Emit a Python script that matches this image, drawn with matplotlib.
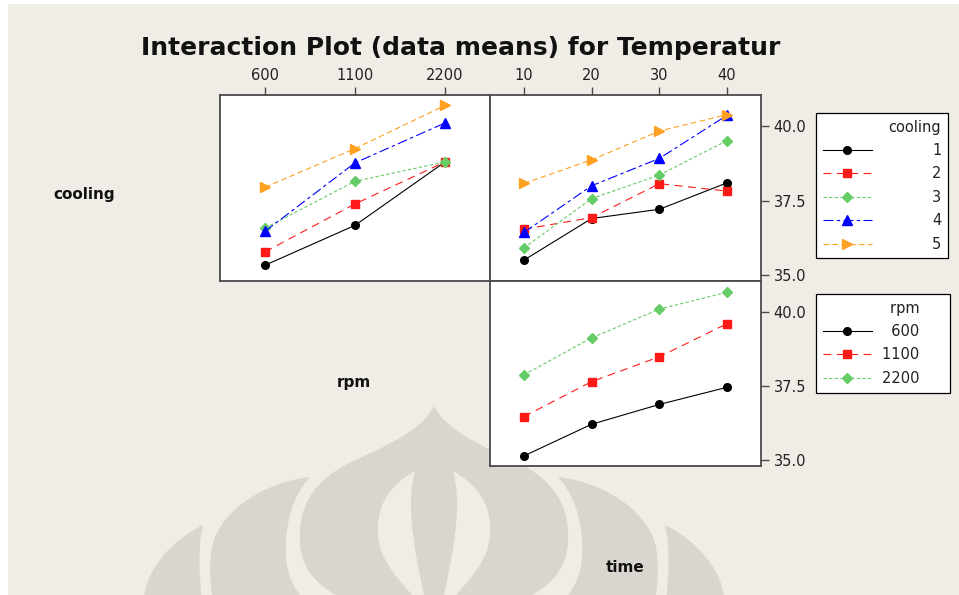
import matplotlib
matplotlib.use("Agg")
import matplotlib.pyplot as plt
from matplotlib.path import Path
from matplotlib.patches import PathPatch, Rectangle

# =====================================
# Data (means of Temperatur)
# =====================================
rpm_levels = ["600", "1100", "2200"]
time_levels = ["10", "20", "30", "40"]
cooling_levels = ["1", "2", "3", "4", "5"]

# cooling x rpm  (one list per cooling level, over rpm)
cool_rpm_1 = [35.33, 36.67, 38.80]
cool_rpm_2 = [35.78, 37.39, 38.80]
cool_rpm_3 = [36.58, 38.15, 38.80]
cool_rpm_4 = [36.47, 38.77, 40.11]
cool_rpm_5 = [37.95, 39.25, 40.70]

# cooling x time
cool_time_1 = [35.50, 36.90, 37.21, 38.10]
cool_time_2 = [36.54, 36.93, 38.07, 37.82]
cool_time_3 = [35.91, 37.57, 38.36, 39.52]
cool_time_4 = [36.43, 38.00, 38.92, 40.37]
cool_time_5 = [38.08, 38.87, 39.84, 40.39]

# rpm x time
rpm_time_600 = [35.14, 36.21, 36.88, 37.46]
rpm_time_1100 = [36.47, 37.65, 38.49, 39.61]
rpm_time_2200 = [37.88, 39.13, 40.10, 40.67]

y_ticks = [35.0, 37.5, 40.0]

# =====================================
# Styles
# =====================================
BG = "#f0ece6"
WM = "#d9d5cf"
FRAME = "#4a4a4a"
styles = [
    dict(color="black", ls="-", marker="o", ms=5.5),
    dict(color="#ff1a1a", ls=(0, (7, 5)), marker="s", ms=6),
    dict(color="#66cc66", ls=(0, (3, 2)), marker="D", ms=5),
    dict(color="#0000ff", ls=(0, (9, 3, 3, 3)), marker="^", ms=6.5),
    dict(color="#ffa020", ls=(0, (5, 3)), marker=">", ms=6.5),
]

W, H = 959, 595
fig = plt.figure(figsize=(W / 100, H / 100), dpi=100)
fig.patch.set_facecolor("white")


def fx(px):
    return px / W


def fy(py):
    return 1 - py / H


# page background
fig.patches.append(Rectangle((fx(8), 0), 1 - fx(8), fy(4), transform=fig.transFigure,
                             facecolor=BG, edgecolor="none", zorder=-3))

# =====================================
# Watermark (decoration)
# =====================================
M, C4, L, CL = Path.MOVETO, Path.CURVE4, Path.LINETO, Path.CLOSEPOLY
cx = 434


def mirror(pts):
    return [(2 * cx - x, y) for x, y in pts]


def add_shape(pts, codes, color, z=-2):
    verts = [(fx(x), fy(y)) for x, y in pts]
    fig.patches.append(PathPatch(Path(verts, codes), transform=fig.transFigure,
                                 facecolor=color, edgecolor="none", zorder=z))


dome = [(345, 600), (320, 588), (300, 570), (300, 540),
        (298, 500), (320, 475), (360, 458),
        (400, 440), (425, 425), (434, 406),
        (443, 425), (468, 440), (508, 458),
        (548, 475), (570, 500), (568, 540),
        (568, 570), (548, 588), (523, 600), (345, 600)]
dome_codes = [M] + [C4] * 18 + [CL]
add_shape(dome, dome_codes, WM)

petal = [(310, 477), (262, 482), (213, 515), (211, 555),
         (209, 575), (211, 590), (213, 600), (304, 600),
         (290, 585), (284, 565), (286, 540),
         (288, 510), (298, 490), (310, 477), (310, 477)]
petal_codes = [M, C4, C4, C4, C4, C4, C4, L, C4, C4, C4, C4, C4, C4, CL]
add_shape(petal, petal_codes, WM)
add_shape(mirror(petal), petal_codes, WM)

outer = [(203, 525), (172, 540), (145, 570), (144, 600), (202, 600),
         (199, 575), (198, 545), (203, 525), (203, 525)]
outer_codes = [M, C4, C4, C4, L, C4, C4, C4, CL]
add_shape(outer, outer_codes, WM)
add_shape(mirror(outer), outer_codes, WM)

lens = [(415, 471), (390, 485), (376, 505), (378, 535),
        (380, 565), (405, 585), (416, 600), (425, 600),
        (418, 565), (404, 510), (415, 471), (415, 471)]
lens_codes = [M, C4, C4, C4, C4, C4, C4, L, C4, C4, C4, CL]
add_shape(lens, lens_codes, BG, z=-1)
add_shape(mirror(lens), lens_codes, BG, z=-1)

# =====================================
# Panels
# =====================================
ylim = (34.8, 41.05)


def make_ax(x0, y0, x1, y1):
    ax = fig.add_axes([fx(x0), fy(y1), fx(x1) - fx(x0), fy(y0) - fy(y1)])
    ax.set_facecolor("white")
    for s in ax.spines.values():
        s.set_color(FRAME)
        s.set_linewidth(1.3)
    ax.set_ylim(*ylim)
    ax.tick_params(colors=FRAME, labelcolor="#222222", labelsize=10.5,
                   length=6, width=1.0, direction="out", pad=3)
    return ax


ax_cr = make_ax(220, 95, 490, 281)
ax_ct = make_ax(490, 95, 761, 281)
ax_rt = make_ax(490, 281, 761, 466)

x_rpm = range(len(rpm_levels))
x_time = range(len(time_levels))

cool_rpm = [cool_rpm_1, cool_rpm_2, cool_rpm_3, cool_rpm_4, cool_rpm_5]
cool_time = [cool_time_1, cool_time_2, cool_time_3, cool_time_4, cool_time_5]
rpm_time = [rpm_time_600, rpm_time_1100, rpm_time_2200]

for vals, st in zip(cool_rpm, styles):
    ax_cr.plot(x_rpm, vals, lw=0.8, mec=st["color"], **st)

cool_handles = []
for vals, st, lab in zip(cool_time, styles, cooling_levels):
    h, = ax_ct.plot(x_time, vals, lw=0.8, mec=st["color"], label=lab, **st)
    cool_handles.append(h)

rpm_handles = []
for vals, st, lab in zip(rpm_time, styles, rpm_levels):
    h, = ax_rt.plot(x_time, vals, lw=0.8, mec=st["color"], label=lab, **st)
    rpm_handles.append(h)

# rpm x-axis on top
ax_cr.set_xlim(-0.5, 2.5)
ax_cr.set_xticks(list(x_rpm))
ax_cr.set_xticklabels(rpm_levels)
ax_cr.xaxis.tick_top()
ax_cr.set_yticks([])

# time x-axis on top
for ax in (ax_ct, ax_rt):
    ax.set_xlim(-0.5, 3.5)
    ax.yaxis.tick_right()
    ax.set_yticks(y_ticks)
    ax.set_yticklabels([f"{v:.1f}" for v in y_ticks])
ax_ct.set_xticks(list(x_time))
ax_ct.set_xticklabels(time_levels)
ax_ct.xaxis.tick_top()
ax_rt.set_xticks([])

# =====================================
# Legends
# =====================================
FS = "\u2007"  # figure space, keeps numbers right-aligned
PAD = FS * 2 + " "

leg1 = fig.legend(handles=cool_handles, title="cooling", loc="upper left",
                  bbox_to_anchor=(fx(816), fy(113)), borderaxespad=0,
                  frameon=True, fancybox=False, framealpha=1, facecolor="white",
                  fontsize=10.5, title_fontsize=10.5, handlelength=3.4,
                  handletextpad=4.1, labelspacing=0.58, borderpad=0.45,
                  alignment="right")

rpm_labels = [FS + "600" + PAD, "1100" + PAD, "2200" + PAD]
leg2 = fig.legend(handles=rpm_handles, labels=rpm_labels, title="rpm" + PAD,
                  loc="upper left", bbox_to_anchor=(fx(816), fy(294)), borderaxespad=0,
                  frameon=True, fancybox=False, framealpha=1, facecolor="white",
                  fontsize=10.5, title_fontsize=10.5, handlelength=3.4,
                  handletextpad=0.7, labelspacing=0.58, borderpad=0.45,
                  alignment="right")
for leg in (leg1, leg2):
    leg.get_frame().set_edgecolor("black")
    leg.get_frame().set_linewidth(0.9)
    for t in leg.get_texts():
        t.set_color("#222222")
    leg.get_title().set_color("#222222")

# =====================================
# Titles and row labels
# =====================================
fig.text(fx(461), fy(48), "Interaction Plot (data means) for Temperatur",
         ha="center", va="center", fontsize=18, fontweight="bold", color="#111111")
fig.text(fx(84), fy(195), "cooling", ha="center", va="center",
         fontsize=11, fontweight="bold", color="#111111")
fig.text(fx(354), fy(383), "rpm", ha="center", va="center",
         fontsize=11, fontweight="bold", color="#111111")
fig.text(fx(625), fy(568), "time", ha="center", va="center",
         fontsize=11, fontweight="bold", color="#111111")

plt.savefig("out.png", dpi=100, facecolor=fig.get_facecolor())
